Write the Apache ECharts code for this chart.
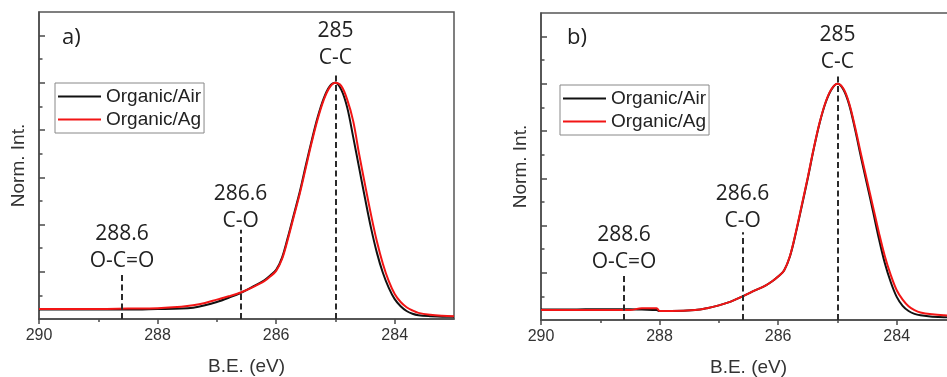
<!DOCTYPE html>
<html><head><meta charset="utf-8">
<script src="https://cdn.jsdelivr.net/npm/echarts@6/dist/echarts.min.js"></script>
<style>html,body{margin:0;padding:0;background:#fff}#c{width:947px;height:377px}</style>
</head><body><div id="c"></div>
<script>
// ---- data (B.E. in eV, normalized intensity) ----
const energyA = [290,289.5,289,288.5,288,287.6,287.4,287.2,287,286.8,286.6,286.4,286.2,286.1,286,285.9,285.8,285.7,285.6,285.5,285.4,285.3,285.2,285.1,285,284.9,284.8,284.7,284.6,284.5,284.4,284.3,284.2,284.1,284,283.9,283.8,283.7,283.6,283.4,283.2,283];
const airA = [0.20,0.20,0.20,0.20,0.21,0.22,0.24,0.29,0.36,0.45,0.55,0.68,0.82,0.92,1.04,1.30,1.74,2.22,2.70,3.25,3.78,4.27,4.66,4.92,5.00,4.85,4.47,3.85,3.20,2.55,1.93,1.40,0.98,0.66,0.42,0.27,0.17,0.11,0.08,0.06,0.05,0.05];
const agA = [0.21,0.21,0.21,0.22,0.23,0.26,0.29,0.34,0.41,0.48,0.56,0.67,0.80,0.90,1.02,1.27,1.70,2.18,2.66,3.20,3.74,4.23,4.63,4.90,5.00,4.93,4.64,4.19,3.49,2.84,2.21,1.64,1.17,0.80,0.53,0.36,0.25,0.18,0.13,0.09,0.07,0.06];

const energyB = [290,289.5,289,288.5,288.3,288.05,288,287.8,287.4,287.2,287,286.8,286.6,286.4,286.2,286.1,286,285.9,285.8,285.7,285.6,285.5,285.4,285.3,285.2,285.1,285,284.9,284.8,284.7,284.6,284.5,284.4,284.3,284.2,284.1,284,283.9,283.8,283.7,283.6,283.4,283.2,283];
const airB = [0.22,0.22,0.23,0.23,0.22,0.21,0.19,0.19,0.21,0.25,0.31,0.39,0.50,0.62,0.74,0.82,0.92,1.05,1.35,1.85,2.42,3.00,3.62,4.17,4.60,4.88,5.00,4.88,4.55,4.02,3.43,2.87,2.30,1.72,1.20,0.80,0.49,0.30,0.19,0.13,0.10,0.07,0.06,0.06];
const agB = [0.21,0.21,0.21,0.21,0.25,0.25,0.19,0.19,0.21,0.25,0.31,0.39,0.50,0.62,0.74,0.82,0.92,1.05,1.36,1.87,2.44,3.02,3.63,4.18,4.61,4.89,5.00,4.90,4.58,4.07,3.50,2.95,2.40,1.85,1.35,0.95,0.63,0.43,0.29,0.21,0.16,0.12,0.10,0.09];

const seriesNames = ['Organic/Air','Organic/Ag'];
const panelLabels = ['a)','b)'];
const peakPositions = [285, 286.6, 288.6];
const peakValueLabels = ['285','286.6','288.6'];
const peakBondLabels = ['C-C','C-O','O-C=O'];
const peakLineTopA = [5.23, 1.89, 0.97];
const peakLineTopB = [5.17, 1.86, 0.97];
const xMajorTicks = [284,286,288,290];
const xMinorTicks = [285,287,289];
const yMajorTicks = [1,2,3,4,5,6];
const yMinorTicks = [0.5,1.5,2.5,3.5,4.5,5.5];

// ---- build ----
const pairs = (e, v) => e.map((x, i) => [x, v[i]]);
const AX = '#4a4a4a', TXT = '#222';
const SANS = 'Liberation Sans, Arial, sans-serif';
const ANN = 'Open Sans, sans-serif';

const grids = [
  {left: 39, top: 12, width: 415, height: 307},
  {left: 541, top: 13, width: 415, height: 307}
].map(g => Object.assign(g, {show: true, outerBoundsMode: 'none', containLabel: false, borderColor: '#555', borderWidth: 1.5, backgroundColor: 'transparent'}));

const xAxes = [], yAxes = [];
[0, 1].forEach(gi => {
  xAxes.push({
    type: 'value', gridIndex: gi, min: 283, max: 290, inverse: true, position: 'bottom',
    axisLine: {show: true, onZero: false, lineStyle: {color: AX, width: 1.5}},
    axisTick: {show: true, inside: false, length: 5, customValues: xMajorTicks, lineStyle: {color: AX, width: 1.5}},
    axisLabel: {show: true, customValues: xMajorTicks, fontSize: 16, color: '#333', margin: 9, fontFamily: SANS},
    splitLine: {show: false},
    name: 'B.E. (eV)', nameLocation: 'middle', nameGap: 38,
    nameTextStyle: {fontSize: 19, color: '#333', fontFamily: SANS}
  });
  xAxes.push({
    type: 'value', gridIndex: gi, min: 283, max: 290, inverse: true, position: 'bottom',
    axisLine: {show: false, onZero: false},
    axisTick: {show: true, inside: false, length: 3, customValues: xMinorTicks, lineStyle: {color: AX, width: 1.5}},
    axisLabel: {show: false}, splitLine: {show: false}
  });
  yAxes.push({
    type: 'value', gridIndex: gi, min: 0, max: 6.5, position: 'left',
    axisLine: {show: true, onZero: false, lineStyle: {color: AX, width: 1.5}},
    axisTick: {show: true, inside: true, length: 6, customValues: yMajorTicks, lineStyle: {color: AX, width: 1.5}},
    axisLabel: {show: false}, splitLine: {show: false},
    name: 'Norm. Int.', nameLocation: 'middle', nameGap: 11, nameRotate: 90,
    nameTextStyle: {fontSize: 19, color: '#333', fontFamily: SANS}
  });
  yAxes.push({
    type: 'value', gridIndex: gi, min: 0, max: 6.5, position: 'left',
    axisLine: {show: false, onZero: false},
    axisTick: {show: true, inside: true, length: 3.5, customValues: yMinorTicks, lineStyle: {color: AX, width: 1.5}},
    axisLabel: {show: false}, splitLine: {show: false}
  });
});

function peakMarks(tops, dists) {
  return {
    silent: true, symbol: ['none', 'none'], z: 10,
    lineStyle: {color: '#2a2a2a', type: [6, 3.5], width: 2},
    data: peakPositions.map((p, i) => [
      {coord: [p, 0]},
      {coord: [p, tops[i]], label: {distance: dists[i]}}
    ]),
    label: {
      show: true, position: 'end',
      formatter: (prm) => {
        const i = prm.dataIndex;
        return '{v|' + peakValueLabels[i] + '}\n{n|' + peakBondLabels[i] + '}';
      },
      rich: {
        v: {fontSize: 21, lineHeight: 27, color: TXT, fontFamily: ANN},
        n: {fontSize: 21, lineHeight: 27, color: TXT, fontFamily: ANN}
      }
    }
  };
}

const lineBase = {type: 'line', symbol: 'none', smooth: 0.35};
const series = [
  Object.assign({}, lineBase, {name: seriesNames[0], xAxisIndex: 0, yAxisIndex: 0, data: pairs(energyA, airA), color: '#111', lineStyle: {width: 2, color: '#111'}}),
  Object.assign({}, lineBase, {name: seriesNames[1], xAxisIndex: 0, yAxisIndex: 0, data: pairs(energyA, agA), color: '#f21515', lineStyle: {width: 2, color: '#f21515'}, markLine: peakMarks(peakLineTopA, [0, -5, -1])}),
  Object.assign({}, lineBase, {name: seriesNames[0], xAxisIndex: 2, yAxisIndex: 2, data: pairs(energyB, airB), color: '#111', lineStyle: {width: 2, color: '#111'}}),
  Object.assign({}, lineBase, {name: seriesNames[1], xAxisIndex: 2, yAxisIndex: 2, data: pairs(energyB, agB), color: '#f21515', lineStyle: {width: 2, color: '#f21515'}, markLine: peakMarks(peakLineTopB, [0, -2, -1])})
];

const legendBase = {
  orient: 'vertical', data: seriesNames, icon: 'rect', itemWidth: 43, itemHeight: 2, itemGap: 4,
  padding: [4, 3, 4, 3], borderColor: '#888', borderWidth: 1, backgroundColor: '#fff',
  textStyle: {fontSize: 19, lineHeight: 19, color: TXT, fontFamily: SANS}
};

const option = {
  animation: false,
  backgroundColor: '#fff',
  title: [
    {text: panelLabels[0], left: 62, top: 27, padding: 0, textStyle: {fontSize: 22, fontWeight: 'normal', color: TXT, fontFamily: ANN}},
    {text: panelLabels[1], left: 567, top: 27, padding: 0, textStyle: {fontSize: 22, fontWeight: 'normal', color: TXT, fontFamily: ANN}}
  ],
  legend: [
    Object.assign({}, legendBase, {left: 55, top: 83}),
    Object.assign({}, legendBase, {left: 560, top: 85})
  ],
  grid: grids,
  xAxis: xAxes,
  yAxis: yAxes,
  series: series
};

const chart = echarts.init(document.getElementById('c'));
chart.setOption(option);
</script>
</body></html>
